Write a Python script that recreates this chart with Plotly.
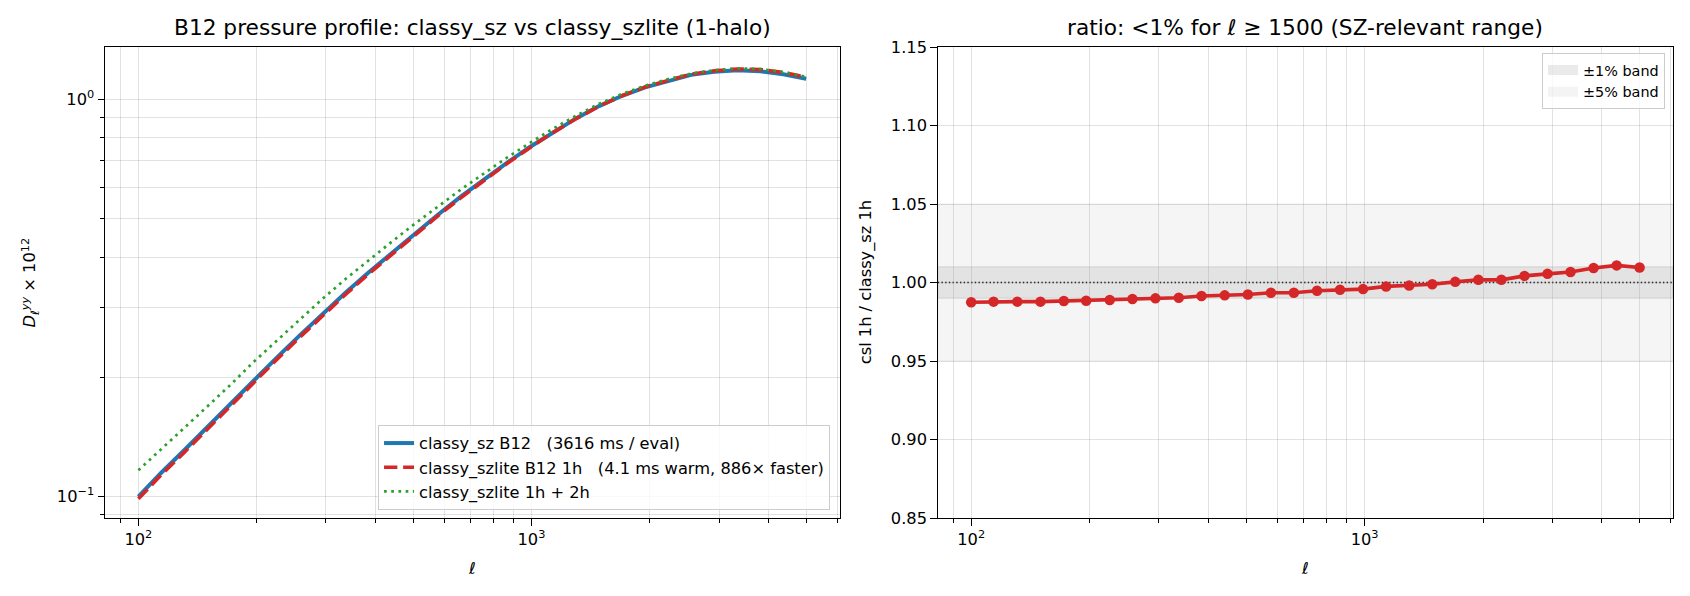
import plotly.graph_objects as go

# ---------------- data ----------------
ell = [100, 114, 131, 150, 172, 196, 225, 257, 294, 337, 385, 441, 505, 578, 661,
       757, 866, 991, 1134, 1298, 1486, 1700, 1946, 2227, 2549, 2917, 3338, 3820, 4372, 5000]

dl_classy_sz = [0.1000, 0.1145, 0.1310, 0.1499, 0.1715, 0.1963, 0.2239, 0.2543, 0.2887, 0.3264,
                0.3665, 0.4110, 0.4603, 0.5126, 0.5690, 0.6289, 0.6924, 0.7592, 0.8270, 0.8959,
                0.9623, 1.0214, 1.0725, 1.1148, 1.1530, 1.1740, 1.1850, 1.1780, 1.1570, 1.1270]

ratio_1h = [0.9874, 0.9878, 0.9878, 0.9878, 0.9882, 0.9884, 0.9889, 0.9895, 0.9899, 0.9903,
            0.9914, 0.9918, 0.9924, 0.9935, 0.9935, 0.9947, 0.9954, 0.9958, 0.9975, 0.9981,
            0.9989, 1.0004, 1.0017, 1.0017, 1.0042, 1.0055, 1.0067, 1.0092, 1.0109, 1.0095]

dl_szlite_1h = [b * r for b, r in zip(dl_classy_sz, ratio_1h)]

dl_szlite_1h2h = [0.1165, 0.1317, 0.1491, 0.1689, 0.1917, 0.2179, 0.2470, 0.2790, 0.3147, 0.3535,
                  0.3940, 0.4381, 0.4865, 0.5372, 0.5929, 0.6509, 0.7132, 0.7774, 0.8435, 0.9102,
                  0.9748, 1.0326, 1.0822, 1.1248, 1.1622, 1.1846, 1.1969, 1.1921, 1.1720, 1.1394]

band_1pct = [0.99, 1.01]
band_5pct = [0.95, 1.05]

x_major = [100, 1000]
x_major_text = ["10<sup>2</sup>", "10<sup>3</sup>"]
x_minor = [90, 200, 300, 400, 500, 600, 700, 800, 900, 2000, 3000, 4000, 5000, 6000]
y_major = [0.1, 1.0]
y_major_text = ["10<sup>\u22121</sup>", "10<sup>0</sup>"]
y_minor = [0.09, 0.2, 0.3, 0.4, 0.5, 0.6, 0.7, 0.8, 0.9]
y2_ticks = [0.85, 0.90, 0.95, 1.00, 1.05, 1.10, 1.15]

# ---------------- style ----------------
FONT = "DejaVu Sans"
BLUE, RED, GREEN = "#1f77b4", "#d62728", "#2ca02c"
GRID = "rgba(150,150,150,0.28)"
BAND1 = "rgba(128,128,128,0.15)"
BAND5 = "rgba(128,128,128,0.08)"
TICK = 16.25
NB = "\u00a0"

fig = go.Figure()

fig.add_trace(go.Scatter(x=ell, y=dl_classy_sz, mode="lines",
                         line=dict(color=BLUE, width=4),
                         name=f"classy_sz B12{NB*3}(3616 ms / eval)",
                         legendgroup="a", xaxis="x", yaxis="y"))
fig.add_trace(go.Scatter(x=ell, y=dl_szlite_1h, mode="lines",
                         line=dict(color=RED, width=3.6, dash="13.3px,5.8px"),
                         name=f"classy_szlite B12 1h{NB*3}(4.1 ms warm, 886\u00d7 faster)",
                         legendgroup="b", xaxis="x", yaxis="y"))
fig.add_trace(go.Scatter(x=ell, y=dl_szlite_1h2h, mode="lines",
                         line=dict(color=GREEN, width=2.7, dash="2.7px,4.5px"),
                         name="classy_szlite 1h + 2h",
                         legendgroup="c", xaxis="x", yaxis="y"))

fig.add_trace(go.Scatter(x=ell, y=ratio_1h, mode="lines+markers",
                         line=dict(color=RED, width=3.6),
                         marker=dict(color=RED, size=10.5),
                         showlegend=False, xaxis="x2", yaxis="y2"))

# legend entries for the bands (the bands themselves are drawn as shapes)
for nm, col in (("\u00b11% band", "rgba(128,128,128,0.17)"), ("\u00b15% band", "rgba(128,128,128,0.09)")):
    fig.add_trace(go.Scatter(x=[None], y=[None], mode="lines",
                             line=dict(color=col, width=11),
                             name=nm, legend="legend2", xaxis="x2", yaxis="y2"))

# bands and reference line
fig.add_shape(type="rect", xref="x2 domain", yref="y2", x0=0, x1=1,
              y0=band_5pct[0], y1=band_5pct[1], layer="below",
              fillcolor=BAND5, line=dict(color=BAND5, width=1.4))
fig.add_shape(type="rect", xref="x2 domain", yref="y2", x0=0, x1=1,
              y0=band_1pct[0], y1=band_1pct[1], layer="below",
              fillcolor=BAND1, line=dict(color=BAND1, width=1.4))
fig.add_shape(type="line", xref="x2 domain", yref="y2", x0=0, x1=1, y0=1.0, y1=1.0,
              layer="below", line=dict(color="black", width=1.4, dash="1.4px,2.3px"))

axis_common = dict(showline=True, linecolor="black", linewidth=1.4, mirror=True,
                   ticks="outside", ticklen=6.3, tickwidth=1.4, tickcolor="black",
                   showgrid=True, gridcolor=GRID, gridwidth=1.4, zeroline=False,
                   tickfont=dict(family=FONT, size=TICK, color="black"))

minor_x = dict(tickmode="array", tickvals=x_minor, ticks="outside", ticklen=3.6,
               tickwidth=1.2, tickcolor="black", showgrid=True, gridcolor=GRID, gridwidth=1.4)

fig.update_layout(
    width=1690, height=596,
    margin=dict(l=105, r=17, t=47, b=78),
    paper_bgcolor="white", plot_bgcolor="white",
    font=dict(family=FONT, color="black"),
    xaxis=dict(type="log", domain=[0, 0.4685], range=[1.91505, 3.78392],
               tickmode="array", tickvals=x_major, ticktext=x_major_text,
               minor=minor_x, anchor="y", **axis_common),
    yaxis=dict(type="log", range=[-1.0539, 0.1320],
               tickmode="array", tickvals=y_major, ticktext=y_major_text,
               minor=dict(tickmode="array", tickvals=y_minor, ticks="outside", ticklen=3.6,
                          tickwidth=1.2, tickcolor="black", showgrid=True,
                          gridcolor=GRID, gridwidth=1.4),
               anchor="x", **axis_common),
    xaxis2=dict(type="log", domain=[0.5311, 1], range=[1.91505, 3.78392],
                tickmode="array", tickvals=x_major, ticktext=x_major_text,
                minor=minor_x, anchor="y2", **axis_common),
    yaxis2=dict(range=[0.85, 1.15], tickmode="array", tickvals=y2_ticks,
                ticktext=[f"{v:.2f}" for v in y2_ticks], anchor="x2", **axis_common),
    legend=dict(x=0.4624, y=0.017, xanchor="right", yanchor="bottom",
                bgcolor="rgba(255,255,255,0.8)", bordercolor="#cccccc", borderwidth=1,
                font=dict(family=FONT, size=16.25, color="black"),
                tracegroupgap=0, itemwidth=30),
    legend2=dict(x=0.9949, y=0.987, xanchor="right", yanchor="top",
                 bgcolor="rgba(255,255,255,0.8)", bordercolor="#cccccc", borderwidth=1,
                 font=dict(family=FONT, size=14.4, color="black"), itemwidth=30),
)

ann = []
ann.append(dict(text="B12 pressure profile: classy_sz vs classy_szlite (1-halo)",
                xref="x domain", yref="y domain", x=0.5, y=1, yshift=19.5,
                xanchor="center", yanchor="middle", showarrow=False,
                font=dict(family=FONT, size=21.7, color="black")))
ann.append(dict(text="ratio: &lt;1% for <i>\u2113</i> \u2265 1500 (SZ-relevant range)",
                xref="x2 domain", yref="y2 domain", x=0.5, y=1, yshift=19.5,
                xanchor="center", yanchor="middle", showarrow=False,
                font=dict(family=FONT, size=21.7, color="black")))
for xr, yr in (("x domain", "y domain"), ("x2 domain", "y2 domain")):
    ann.append(dict(text="<i>\u2113</i>", xref=xr, yref=yr, x=0.5, y=0, yshift=-50,
                    xanchor="center", yanchor="middle", showarrow=False,
                    font=dict(family=FONT, size=TICK, color="black")))
ann.append(dict(text="<i>D</i><sub><i>\u2113</i></sub><sup><i>yy</i></sup> \u00d7 10<sup>12</sup>",
                xref="x domain", yref="y domain", x=0, y=0.5, xshift=-76,
                xanchor="center", yanchor="middle", textangle=-90, showarrow=False,
                font=dict(family=FONT, size=TICK, color="black")))
ann.append(dict(text="csl 1h / classy_sz 1h",
                xref="x2 domain", yref="y2 domain", x=0, y=0.5, xshift=-72,
                xanchor="center", yanchor="middle", textangle=-90, showarrow=False,
                font=dict(family=FONT, size=TICK, color="black")))
fig.update_layout(annotations=ann)

fig.write_html("out.html")
